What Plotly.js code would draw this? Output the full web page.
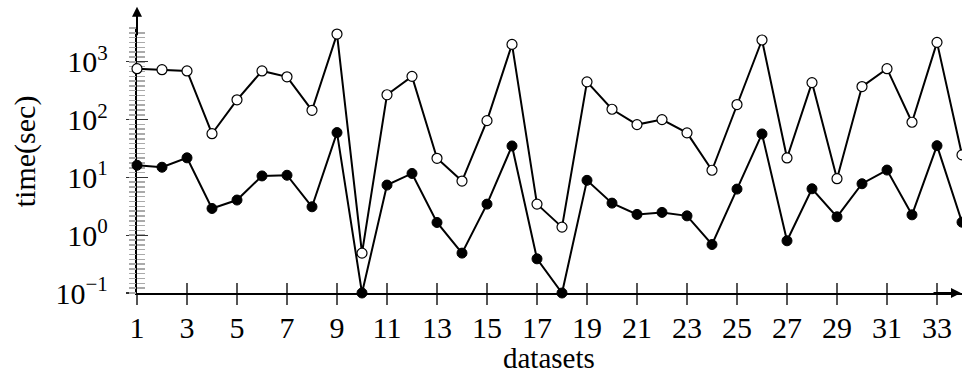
<!DOCTYPE html>
<html>
<head>
<meta charset="utf-8">
<script src="https://cdn.plot.ly/plotly-3.0.1.min.js"></script>
<style>html,body{margin:0;padding:0;background:#fff;}#chart{width:962px;height:375px;}</style>
</head>
<body>
<div id="chart"></div>
<script>
const datasets = [1,2,3,4,5,6,7,8,9,10,11,12,13,14,15,16,17,18,19,20,21,22,23,24,25,26,27,28,29,30,31,32,33,34];
const timeOpen = [760,730,695,57,220,695,550,145,3020,0.49,269,560,21.4,8.65,96,2000,3.45,1.38,450,151,82,100,59,13.3,182,2385,21.7,437,9.5,373,760,90,2170,24.5];
const timeFilled = [16.2,15,21.8,2.9,4.06,10.6,10.9,3.1,59.6,0.1,7.37,11.7,1.66,0.49,3.45,35,0.39,0.1,8.9,3.59,2.29,2.48,2.16,0.69,6.28,56.5,0.80,6.36,2.08,7.77,13.4,2.25,35.4,1.68];
const xTicks = [1,3,5,7,9,11,13,15,17,19,21,23,25,27,29,31,33];
const yTickVals = [0.1,1,10,100,1000];
const yTickText = ['10<sup>\u22121</sup>','10<sup>0</sup>','10<sup>1</sup>','10<sup>2</sup>','10<sup>3</sup>'];
const xTitle = 'datasets';
const yTitle = 'time(sec)';

const FONT = '"Liberation Serif", "Times New Roman", serif';
const FS = 30;
const yLogRange = [-1, 3.585];

const helper = (xa, ya) => ({x: [], y: [], type: 'scatter', mode: 'markers', xaxis: xa, yaxis: ya, hoverinfo: 'skip', showlegend: false});

const traces = [
  helper('x2', 'y2'), helper('x2', 'y3'), helper('x2', 'y4'),
  {x: datasets, y: timeFilled, type: 'scatter', mode: 'lines+markers', cliponaxis: false,
   line: {color: '#000', width: 2}, marker: {size: 10, color: '#000', line: {color: '#000', width: 1}}, hoverinfo: 'skip'},
  {x: datasets, y: timeOpen, type: 'scatter', mode: 'lines+markers', cliponaxis: false,
   line: {color: '#000', width: 2}, marker: {size: 10, color: '#fff', line: {color: '#000', width: 1.2}}, hoverinfo: 'skip'}
];

const noLab = {showticklabels: false, showline: false, showgrid: false, zeroline: false, layer: 'below traces'};

const layout = {
  width: 962, height: 375,
  margin: {l: 137, r: 0, t: 28, b: 82},
  paper_bgcolor: '#fff', plot_bgcolor: 'rgba(0,0,0,0)',
  showlegend: false,
  font: {family: FONT, size: FS, color: '#000'},
  xaxis: {range: [1, 34], tickvals: xTicks, ticks: 'outside', ticklen: 10, tickwidth: 1.2, tickcolor: '#555',
          showline: true, linewidth: 2.2, linecolor: '#000', showgrid: false, zeroline: false,
          tickfont: {family: FONT, size: FS}, ticklabelstandoff: -3, layer: 'below traces'},
  xaxis2: Object.assign({range: [1, 34], overlaying: 'x', anchor: 'y', tickvals: xTicks, ticks: 'inside', ticklen: 10, tickwidth: 1.2, tickcolor: '#555'}, noLab),
  yaxis: {type: 'log', range: yLogRange, tickvals: yTickVals, ticktext: yTickText, ticks: 'outside', ticklen: 9, tickwidth: 1.2, tickcolor: '#333',
          showline: true, linewidth: 2.2, linecolor: '#000', showgrid: false, zeroline: false,
          tickfont: {family: FONT, size: FS}, ticklabelstandoff: 12, layer: 'below traces'},
  yaxis2: Object.assign({range: yLogRange, overlaying: 'y', anchor: 'x', side: 'left', tick0: -1, dtick: 1/12, ticks: 'outside', ticklen: 7, tickwidth: 1.5, tickcolor: '#aaa'}, noLab),
  yaxis3: Object.assign({range: yLogRange, overlaying: 'y', anchor: 'x', side: 'left', tick0: -1, dtick: 1/12, ticks: 'inside', ticklen: 8, tickwidth: 1.5, tickcolor: '#aaa'}, noLab),
  yaxis4: Object.assign({type: 'log', range: yLogRange, overlaying: 'y', anchor: 'x', side: 'left', tickvals: yTickVals, ticks: 'inside', ticklen: 11, tickwidth: 1.2, tickcolor: '#333'}, noLab),
  annotations: [
    {xref: 'paper', yref: 'paper', x: 1, y: 0, ax: -30, ay: 0, text: '', showarrow: true, arrowhead: 2, arrowsize: 1, arrowwidth: 2, arrowcolor: '#000'},
    {xref: 'paper', yref: 'paper', x: 0, y: 1.08, ax: 0, ay: 30, text: '', showarrow: true, arrowhead: 2, arrowsize: 1, arrowwidth: 2, arrowcolor: '#000'},
    {xref: 'paper', yref: 'paper', x: 0.4996, y: 0, yshift: -82, xanchor: 'center', yanchor: 'bottom', borderpad: 0, text: xTitle, showarrow: false, font: {family: FONT, size: 29}},
    {xref: 'paper', yref: 'paper', x: 0, xshift: -112, y: 0.535, xanchor: 'center', yanchor: 'middle', textangle: -90, text: yTitle, showarrow: false, font: {family: FONT, size: FS}}
  ]
};

Plotly.newPlot('chart', traces, layout, {staticPlot: true, displayModeBar: false});
</script>
</body>
</html>
